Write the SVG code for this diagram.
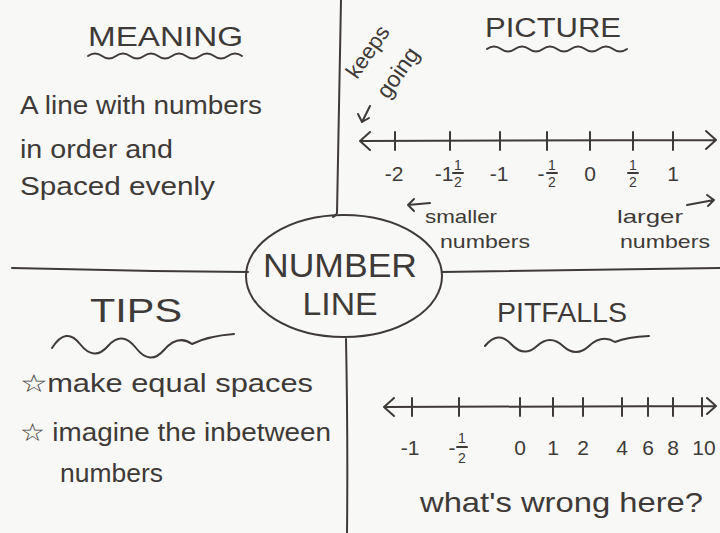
<svg xmlns="http://www.w3.org/2000/svg" width="720" height="533" viewBox="0 0 720 533">
<style>
.ink{fill:none;stroke:#3e3a38;stroke-width:2;stroke-linecap:round;stroke-linejoin:round}
.t{font-family:"Liberation Sans",Arial,sans-serif;fill:#3e3a38}
.h{font-size:27px}
.b{font-size:25px}
.n{font-size:21px}
.f{font-size:14px}
.s{font-size:19px}
</style>
<rect width="720" height="533" fill="#f8f8f6"/>
<g id="connectors" class="ink">
<path d="M341 0 Q339 110 337 213 Q336 216 333 217"/>
<path d="M12 268 Q130 271 248 272"/>
<path d="M442 272 Q580 270 720 268"/>
<path d="M346 339 Q348 440 347 533"/>
</g>
<g id="center">
<ellipse cx="344" cy="276" rx="98" ry="61" class="ink"/>
<text class="t" x="340" y="277" font-size="34" text-anchor="middle" textLength="154" lengthAdjust="spacingAndGlyphs">NUMBER</text>
<text class="t" x="340" y="315" font-size="32" text-anchor="middle" textLength="75" lengthAdjust="spacingAndGlyphs">LINE</text>
</g>
<g id="meaning">
<text class="t h" x="88" y="46" textLength="155" lengthAdjust="spacingAndGlyphs">MEANING</text>
<path class="ink" d="M88 56 q7 -5 14 0 t14 0 t14 0 t14 0 t14 0 t14 0 t14 0 t14 0 t14 0 t14 0 t14 0"/>
<text class="t b" x="20" y="114" textLength="242" lengthAdjust="spacingAndGlyphs">A line with numbers</text>
<text class="t b" x="20" y="158" textLength="153" lengthAdjust="spacingAndGlyphs">in order and</text>
<text class="t b" x="20" y="195" textLength="195" lengthAdjust="spacingAndGlyphs">Spaced evenly</text>
</g>
<g id="picture">
<text class="t h" x="485" y="37" textLength="136" lengthAdjust="spacingAndGlyphs">PICTURE</text>
<path class="ink" d="M487 49 q7 -5 14 0 t14 0 t14 0 t14 0 t14 0 t14 0 t14 0 t14 0 t14 0 t14 0"/>
<text class="t" font-size="22" transform="translate(357 80) rotate(-55)">keeps</text>
<text class="t" font-size="23" transform="translate(388 100) rotate(-55)">going</text>
<path class="ink" d="M370 106 L362 122 M358 114 L362 122 L369 118"/>
<path class="ink" d="M360 141 L716 140 M370 132 L360 141 L370 150 M706 131 L716 140 L706 149"/>
<path class="ink" d="M395 132 V150 M450 132 V150 M500 132 V150 M547 132 V150 M590 132 V150 M633 132 V150 M673 132 V150"/>
<g class="t n" text-anchor="middle">
<text x="394" y="181">-2</text>
<text x="444" y="181">-1</text>
<text x="499" y="181">-1</text>
<text x="541" y="181">-</text>
<text x="590" y="181">0</text>
<text x="673" y="181">1</text>
</g>
<g class="t f" text-anchor="middle">
<text x="458" y="170">1</text><text x="458" y="187">2</text>
<text x="552" y="170">1</text><text x="552" y="187">2</text>
<text x="633" y="170">1</text><text x="633" y="187">2</text>
</g>
<path class="ink" d="M453 173 H463 M547 173 H557 M628 173 H638"/>
<path class="ink" d="M430 203 L408 205 M414 199 L408 205 L414 211"/>
<text class="t s" x="425" y="223" textLength="72" lengthAdjust="spacingAndGlyphs">smaller</text>
<text class="t s" x="440" y="248" textLength="90" lengthAdjust="spacingAndGlyphs">numbers</text>
<text class="t s" x="617" y="223" textLength="66" lengthAdjust="spacingAndGlyphs">larger</text>
<path class="ink" d="M687 205 L714 200 M707 195 L714 200 L708 206"/>
<text class="t s" x="620" y="248" textLength="90" lengthAdjust="spacingAndGlyphs">numbers</text>
</g>
<g id="tips">
<text class="t" x="90" y="322" font-size="34" textLength="92" lengthAdjust="spacingAndGlyphs">TIPS</text>
<path class="ink" d="M52 348 q14 -22 28 -4 t28 2 t28 2 t28 2 t28 -6 q16 -8 42 -10"/>
<text class="t b" x="20" y="392" textLength="293" lengthAdjust="spacingAndGlyphs">☆make equal spaces</text>
<text class="t b" x="20" y="441" textLength="311" lengthAdjust="spacingAndGlyphs">☆ imagine the inbetween</text>
<text class="t b" x="60" y="482" textLength="103" lengthAdjust="spacingAndGlyphs">numbers</text>
</g>
<g id="pitfalls">
<text class="t h" x="497" y="322" textLength="130" lengthAdjust="spacingAndGlyphs">PITFALLS</text>
<path class="ink" d="M485 346 q13 -16 26 -2 t26 2 t26 0 t26 0 t26 -4 q12 -5 34 -6"/>
<path class="ink" d="M384 407 L716 406 M394 398 L384 407 L394 416 M707 398 L716 406 L707 414"/>
<path class="ink" d="M412 398 V416 M459 398 V416 M520 398 V416 M553 398 V416 M583 398 V416 M622 398 V416 M648 398 V416 M673 398 V416 M702 398 V416"/>
<g class="t n" text-anchor="middle">
<text x="410" y="455">-1</text>
<text x="452" y="455">-</text>
<text x="520" y="455">0</text>
<text x="553" y="455">1</text>
<text x="583" y="455">2</text>
<text x="622" y="455">4</text>
<text x="648" y="455">6</text>
<text x="673" y="455">8</text>
<text x="704" y="455">10</text>
</g>
<g class="t f" text-anchor="middle">
<text x="462" y="443">1</text><text x="462" y="463">2</text>
</g>
<path class="ink" d="M457 447 H467"/>
<text class="t" x="420" y="512" font-size="28" textLength="283" lengthAdjust="spacingAndGlyphs">what's wrong here?</text>
</g>
</svg>
